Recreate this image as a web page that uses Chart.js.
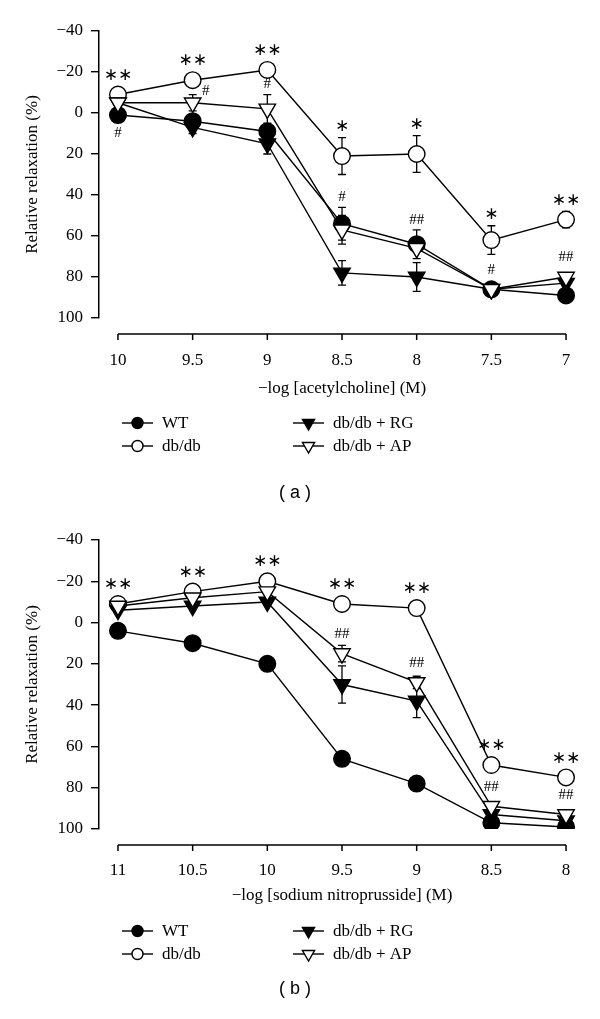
<!DOCTYPE html>
<html>
<head>
<meta charset="utf-8">
<script src="https://cdn.jsdelivr.net/npm/chart.js@4.4.0/dist/chart.umd.min.js"></script>
<style>
html, body { margin: 0; padding: 0; background: #fff; }
#wrap { position: relative; width: 600px; height: 1019px; overflow: hidden; }
canvas { position: absolute; left: 0; }
.cap { position: absolute; left: 0; width: 600px; text-align: center; font-family: 'Liberation Sans', Arial, sans-serif; font-size: 18px; color: #000; line-height: 20px; }
</style>
</head>
<body>
<div id="wrap">
  <canvas id="chartA" width="600" height="510" style="top:0"></canvas>
  <div class="cap" style="top:482px;left:-5px">( a )</div>
  <canvas id="chartB" width="600" height="509" style="top:510px"></canvas>
  <div class="cap" style="top:978px;left:-5px">( b )</div>
</div>
<script>
// 범례 이름 (두 그림 공통)
var seriesNames = ['WT', 'db/db', 'db/db + RG', 'db/db + AP'];

// (a) acetylcholine
var achDoses = [10, 9.5, 9, 8.5, 8, 7.5, 7];
var achWT = [1, 4, 9, 54, 64, 86, 89];
var achDb = [-9, -16, -21, 21, 20, 62, 52];
var achRG = [-5, 7, 15, 78, 80, 86, 83];
var achAP = [-5, -5, -2, 57, 66, 86, 80];
var achWTErr = [0, 2, 3, 8, 7, 0, 0];
var achDbErr = [0, 0, 0, 9, 9, 7, 4];
var achRGErr = [0, 3, 5, 6, 7, 0, 0];
var achAPErr = [0, 4, 7, 7, 0, 0, 2];
// [dose index, series index, text, where]
var achMarks = [
  [0, 1, '∗∗', 'above'], [0, 0, '#', 'below'],
  [1, 1, '∗∗', 'above'], [1, 3, '#', 'right'],
  [2, 1, '∗∗', 'above'], [2, 3, '#', 'above'],
  [3, 1, '∗', 'above'], [3, 0, '#', 'above'],
  [4, 1, '∗', 'above'], [4, 0, '##', 'above'],
  [5, 1, '∗', 'above'], [5, 3, '#', 'above'],
  [6, 1, '∗∗', 'above'], [6, 3, '##', 'above']
];

// (b) sodium nitroprusside
var snpDoses = [11, 10.5, 10, 9.5, 9, 8.5, 8];
var snpWT = [4, 10, 20, 66, 78, 97, 99];
var snpDb = [-9, -15, -20, -9, -7, 69, 75];
var snpRG = [-6, -8, -10, 30, 38, 93, 96];
var snpAP = [-8, -12, -15, 15, 29, 89, 93];
var snpWTErr = [0, 0, 0, 0, 0, 0, 0];
var snpDbErr = [0, 0, 0, 0, 0, 0, 0];
var snpRGErr = [0, 0, 0, 9, 8, 0, 0];
var snpAPErr = [0, 0, 0, 4, 3, 0, 0];
var snpMarks = [
  [0, 1, '∗∗', 'above'], [1, 1, '∗∗', 'above'], [2, 1, '∗∗', 'above'],
  [3, 1, '∗∗', 'above'], [4, 1, '∗∗', 'above'], [5, 1, '∗∗', 'above'],
  [6, 1, '∗∗', 'above'],
  [3, 3, '##', 'above'], [4, 3, '##', 'above'], [5, 3, '##', 'above'], [6, 3, '##', 'above']
];

var yTicks = [-40, -20, 0, 20, 40, 60, 80, 100];

Chart.defaults.font.family = "'Liberation Serif', 'Times New Roman', serif";
Chart.defaults.font.size = 17;
Chart.defaults.color = '#000';

var serif = "'Liberation Serif', 'Times New Roman', serif";

function markerPath(ctx, style, x, y, r) {
  ctx.beginPath();
  if (style === 'circle') {
    ctx.arc(x, y, r, 0, Math.PI * 2);
  } else {
    // 아래로 향한 삼각형
    ctx.moveTo(x, y + r);
    ctx.lineTo(x - r * Math.sin(Math.PI / 3), y - r / 2);
    ctx.lineTo(x + r * Math.sin(Math.PI / 3), y - r / 2);
    ctx.closePath();
  }
}

var extras = {
  id: 'extras',
  beforeDatasetsDraw: function (chart, args, opts) {
    var ctx = chart.ctx, xs = chart.scales.x, ys = chart.scales.y;
    ctx.save();
    ctx.strokeStyle = '#000';
    ctx.lineWidth = 1.3;
    // 에러바
    chart.data.datasets.forEach(function (ds, di) {
      var errs = opts.errors[di];
      ds.data.forEach(function (p, i) {
        var e = errs[i];
        if (!e) return;
        var px = xs.getPixelForValue(p.x);
        var y1 = ys.getPixelForValue(p.y - e), y2 = ys.getPixelForValue(p.y + e);
        ctx.beginPath();
        ctx.moveTo(px, y1); ctx.lineTo(px, y2);
        ctx.moveTo(px - 4, y1); ctx.lineTo(px + 4, y1);
        ctx.moveTo(px - 4, y2); ctx.lineTo(px + 4, y2);
        ctx.stroke();
      });
    });
    // 떨어진 x축 선
    var doses = opts.doses;
    var ay = chart.chartArea.bottom + 16;
    ctx.lineWidth = 1.5;
    ctx.beginPath();
    ctx.moveTo(xs.getPixelForValue(doses[0]), ay);
    ctx.lineTo(xs.getPixelForValue(doses[doses.length - 1]), ay);
    doses.forEach(function (d) {
      var px = xs.getPixelForValue(d);
      ctx.moveTo(px, ay); ctx.lineTo(px, ay + 6);
    });
    ctx.stroke();
    ctx.restore();
  },
  afterDatasetsDraw: function (chart, args, opts) {
    var ctx = chart.ctx, xs = chart.scales.x, ys = chart.scales.y;
    var sets = chart.data.datasets;
    ctx.save();
    ctx.fillStyle = '#000';
    ctx.textAlign = 'center';
    ctx.textBaseline = 'middle';
    // 유의성 표시 (*, #)
    opts.marks.forEach(function (m) {
      var p = sets[m[1]].data[m[0]];
      var e = opts.errors[m[1]][m[0]] || 0;
      var px = xs.getPixelForValue(p.x), py = ys.getPixelForValue(p.y);
      var r = sets[m[1]].pointRadius;
      var top = Math.min(ys.getPixelForValue(p.y - e), py - r);
      var bot = Math.max(ys.getPixelForValue(p.y + e), py + r);
      var star = m[2].indexOf('∗') >= 0;
      ctx.font = star ? "17px 'DejaVu Sans', sans-serif" : '15px ' + serif;
      var tx = px, ty;
      if (m[3] === 'below') ty = bot + 10;
      else if (m[3] === 'right') { tx = px + 13; ty = top - 2; }
      else ty = top - (star ? 11 : 10);
      ctx.fillText(m[2], tx, ty);
    });
    // 범례
    ctx.textAlign = 'left';
    ctx.font = '17px ' + serif;
    var b = chart.chartArea.bottom;
    var pos = [[122, b + opts.legendRows[0]], [122, b + opts.legendRows[1]],
               [293, b + opts.legendRows[0]], [293, b + opts.legendRows[1]]];
    sets.forEach(function (ds, di) {
      var lx = pos[di][0], ly = pos[di][1];
      ctx.strokeStyle = '#000';
      ctx.lineWidth = 1.4;
      ctx.beginPath();
      ctx.moveTo(lx, ly); ctx.lineTo(lx + 31, ly);
      ctx.stroke();
      markerPath(ctx, ds.pointStyle, lx + 15.5, ly, ds.pointStyle === 'circle' ? 5.5 : 7);
      ctx.fillStyle = ds.pointBackgroundColor;
      ctx.fill();
      ctx.stroke();
      ctx.fillStyle = '#000';
      ctx.fillText(ds.label, lx + 40, ly + 1);
    });
    ctx.restore();
  }
};

function mkSet(idx, doses, vals, order) {
  var tri = idx >= 2;
  return {
    label: seriesNames[idx],
    data: doses.map(function (d, i) { return { x: d, y: vals[i] }; }),
    borderColor: '#000',
    borderWidth: 1.4,
    pointStyle: tri ? 'triangle' : 'circle',
    pointRotation: tri ? 180 : 0,
    pointRadius: tri ? 9.5 : 8.3,
    pointHoverRadius: tri ? 9.5 : 8.3,
    pointBackgroundColor: (idx % 2 === 0) ? '#000' : '#fff',
    pointBorderColor: '#000',
    pointBorderWidth: 1.4,
    tension: 0,
    order: order
  };
}

function makeChart(id, doses, lists, errs, marks, title, h, top, bottom, tickPad, titleY, legendRows) {
  var pad = 0.127;
  return new Chart(document.getElementById(id), {
    type: 'line',
    data: {
      datasets: [mkSet(0, doses, lists[0], 2), mkSet(1, doses, lists[1], 3),
                 mkSet(2, doses, lists[2], 1), mkSet(3, doses, lists[3], 0)]
    },
    options: {
      responsive: false,
      animation: false,
      events: [],
      layout: { padding: { top: top, right: 15, left: 0, bottom: 0 } },
      plugins: {
        legend: { display: false },
        tooltip: { enabled: false },
        extras: { errors: errs, marks: marks, doses: doses, legendRows: legendRows }
      },
      scales: {
        x: {
          type: 'linear',
          reverse: true,
          min: doses[doses.length - 1] - pad,
          max: doses[0] + pad,
          afterBuildTicks: function (s) { s.ticks = doses.map(function (d) { return { value: d }; }); },
          afterFit: function (s) { s.height = h - bottom; s.paddingLeft = 0; s.paddingRight = 0; },
          grid: { display: false, drawTicks: false },
          border: { display: false },
          ticks: { padding: tickPad, maxRotation: 0, autoSkip: false, callback: function (v) { return String(v); } },
          title: { display: true, text: title, font: { size: 17 }, padding: { top: 0, bottom: h - titleY - 10.2 } }
        },
        y: {
          reverse: true,
          min: -40,
          max: 100,
          afterBuildTicks: function (s) { s.ticks = yTicks.map(function (v) { return { value: v }; }); },
          afterFit: function (s) { s.width = 99; s.paddingTop = 0; s.paddingBottom = 0; },
          grid: { display: true, drawOnChartArea: false, drawTicks: true, tickLength: 8, color: '#000', lineWidth: 1.4 },
          border: { display: true, color: '#000', width: 1.5 },
          ticks: { padding: 8, callback: function (v) { return v < 0 ? '\u2212' + (-v) : String(v); } },
          title: { display: true, text: 'Relative relaxation (%)', font: { size: 17 }, padding: { top: 22, bottom: 0 } }
        }
      }
    },
    plugins: [extras]
  });
}

makeChart('chartA', achDoses, [achWT, achDb, achRG, achAP], [achWTErr, achDbErr, achRGErr, achAPErr],
  achMarks, '\u2212log [acetylcholine] (M)', 510, 31, 318, 32, 389, [105, 128]);
makeChart('chartB', snpDoses, [snpWT, snpDb, snpRG, snpAP], [snpWTErr, snpDbErr, snpRGErr, snpAPErr],
  snpMarks, '\u2212log [sodium nitroprusside] (M)', 509, 30, 319, 31, 386, [102, 125]);
</script>
</body>
</html>
